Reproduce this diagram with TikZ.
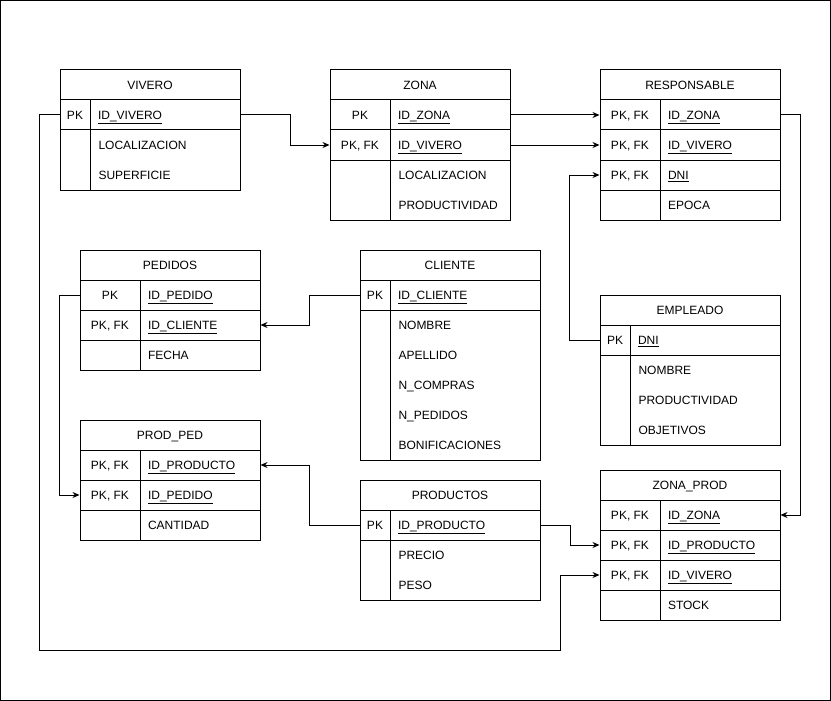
\documentclass[tikz,border=0pt]{standalone}
\usepackage{fontspec}
\setmainfont{Liberation Sans}
\usetikzlibrary{arrows.meta}
\begin{document}
\begin{tikzpicture}[x=1pt,y=-1pt,line width=1pt,
  font=\fontsize{12pt}{14pt}\selectfont,
  every node/.append style={text height=8.6pt,text depth=0pt},
  kopf/.style={draw,minimum width=180pt,minimum height=30pt,inner sep=0pt},
  schluessel/.style={draw,minimum width=#1,minimum height=30pt,inner sep=0pt},
  feld/.style={draw,text width=#1,minimum height=30pt,inner xsep=8pt,inner ysep=0pt,align=left},
  block/.style={draw,minimum width=#1,inner sep=0pt},
  eintrag/.style={anchor=west,inner sep=0pt},
  pfeil/.style={-{Stealth[length=7pt,width=6pt]}}]
\useasboundingbox (0,0) rectangle (831,701);
\draw (0.5,0.5) rectangle (830.5,700.5);

% VIVERO
\node[kopf] (viverotitel) at (150,85) {VIVERO};
\node[schluessel=30pt] (viveropk) at (75,115) {PK};
\node[feld=134pt] (viveroid) at (165,115) {\underline{ID\_VIVERO}};
\node[block=30pt,minimum height=60pt] (viverokeyrest) at (75,160) {};
\node[block=150pt,minimum height=60pt] (viverorest) at (165,160) {};
\node[eintrag] (viveroloc) at (98,145) {LOCALIZACION};
\node[eintrag] (viverosup) at (98,175) {SUPERFICIE};

% ZONA
\node[kopf] (zonatitel) at (420,85) {ZONA};
\node[schluessel=60pt] (zonapk) at (360,115) {PK};
\node[feld=104pt] (zonaid) at (450,115) {\underline{ID\_ZONA}};
\node[schluessel=60pt] (zonafk) at (360,145) {PK, FK};
\node[feld=104pt] (zonavivero) at (450,145) {\underline{ID\_VIVERO}};
\node[block=60pt,minimum height=60pt] (zonakeyrest) at (360,190) {};
\node[block=120pt,minimum height=60pt] (zonarest) at (450,190) {};
\node[eintrag] (zonaloc) at (398,175) {LOCALIZACION};
\node[eintrag] (zonaprod) at (398,205) {PRODUCTIVIDAD};

% RESPONSABLE
\node[kopf] (resptitel) at (690,85) {RESPONSABLE};
\node[schluessel=60pt] (respfkone) at (630,115) {PK, FK};
\node[feld=104pt] (respzona) at (720,115) {\underline{ID\_ZONA}};
\node[schluessel=60pt] (respfktwo) at (630,145) {PK, FK};
\node[feld=104pt] (respvivero) at (720,145) {\underline{ID\_VIVERO}};
\node[schluessel=60pt] (respfkthree) at (630,175) {PK, FK};
\node[feld=104pt] (respdni) at (720,175) {\underline{DNI}};
\node[schluessel=60pt] (respleer) at (630,205) {};
\node[feld=104pt] (respepoca) at (720,205) {EPOCA};

% PEDIDOS
\node[kopf] (pedidostitel) at (170,265) {PEDIDOS};
\node[schluessel=60pt] (pedidospk) at (110,295) {PK};
\node[feld=104pt] (pedidosid) at (200,295) {\underline{ID\_PEDIDO}};
\node[schluessel=60pt] (pedidosfk) at (110,325) {PK, FK};
\node[feld=104pt] (pedidoscliente) at (200,325) {\underline{ID\_CLIENTE}};
\node[schluessel=60pt] (pedidosleer) at (110,355) {};
\node[feld=104pt] (pedidosfecha) at (200,355) {FECHA};

% CLIENTE
\node[kopf] (clientetitel) at (450,265) {CLIENTE};
\node[schluessel=30pt] (clientepk) at (375,295) {PK};
\node[feld=134pt] (clienteid) at (465,295) {\underline{ID\_CLIENTE}};
\node[block=30pt,minimum height=150pt] (clientekeyrest) at (375,385) {};
\node[block=150pt,minimum height=150pt] (clienterest) at (465,385) {};
\node[eintrag] (clientenombre) at (398,325) {NOMBRE};
\node[eintrag] (clienteapellido) at (398,355) {APELLIDO};
\node[eintrag] (clientecompras) at (398,385) {N\_COMPRAS};
\node[eintrag] (clientepedidos) at (398,415) {N\_PEDIDOS};
\node[eintrag] (clientebonif) at (398,445) {BONIFICACIONES};

% EMPLEADO
\node[kopf] (empleadotitel) at (690,310) {EMPLEADO};
\node[schluessel=30pt] (empleadopk) at (615,340) {PK};
\node[feld=134pt] (empleadodni) at (705,340) {\underline{DNI}};
\node[block=30pt,minimum height=90pt] (empleadokeyrest) at (615,400) {};
\node[block=150pt,minimum height=90pt] (empleadorest) at (705,400) {};
\node[eintrag] (empleadonombre) at (638,370) {NOMBRE};
\node[eintrag] (empleadoprod) at (638,400) {PRODUCTIVIDAD};
\node[eintrag] (empleadoobj) at (638,430) {OBJETIVOS};

% PROD_PED
\node[kopf] (prodpedtitel) at (170,435) {PROD\_PED};
\node[schluessel=60pt] (prodpedfkone) at (110,465) {PK, FK};
\node[feld=104pt] (prodpedproducto) at (200,465) {\underline{ID\_PRODUCTO}};
\node[schluessel=60pt] (prodpedfktwo) at (110,495) {PK, FK};
\node[feld=104pt] (prodpedpedido) at (200,495) {\underline{ID\_PEDIDO}};
\node[schluessel=60pt] (prodpedleer) at (110,525) {};
\node[feld=104pt] (prodpedcantidad) at (200,525) {CANTIDAD};

% PRODUCTOS
\node[kopf] (productostitel) at (450,495) {PRODUCTOS};
\node[schluessel=30pt] (productospk) at (375,525) {PK};
\node[feld=134pt] (productosid) at (465,525) {\underline{ID\_PRODUCTO}};
\node[block=30pt,minimum height=60pt] (productoskeyrest) at (375,570) {};
\node[block=150pt,minimum height=60pt] (productosrest) at (465,570) {};
\node[eintrag] (productosprecio) at (398,555) {PRECIO};
\node[eintrag] (productospeso) at (398,585) {PESO};

% ZONA_PROD
\node[kopf] (zonaprodtitel) at (690,485) {ZONA\_PROD};
\node[schluessel=60pt] (zonaprodfkone) at (630,515) {PK, FK};
\node[feld=104pt] (zonaprodzona) at (720,515) {\underline{ID\_ZONA}};
\node[schluessel=60pt] (zonaprodfktwo) at (630,545) {PK, FK};
\node[feld=104pt] (zonaprodproducto) at (720,545) {\underline{ID\_PRODUCTO}};
\node[schluessel=60pt] (zonaprodfkthree) at (630,575) {PK, FK};
\node[feld=104pt] (zonaprodvivero) at (720,575) {\underline{ID\_VIVERO}};
\node[schluessel=60pt] (zonaprodleer) at (630,605) {};
\node[feld=104pt] (zonaprodstock) at (720,605) {STOCK};

% Verbindungen
\coordinate (untenknick) at (560,650);
\draw[pfeil] (viveroid.east) -- ++(50,0) |- (zonafk.west);
\draw[pfeil] (zonaid.east) -- (respfkone.west);
\draw[pfeil] (zonavivero.east) -- (respfktwo.west);
\draw[pfeil] (empleadopk.west) -- ++(-30,0) |- (respfkthree.west);
\draw[pfeil] (respzona.east) -- ++(20,0) |- (zonaprodzona.east);
\draw[pfeil] (clientepk.west) -- ++(-50,0) |- (pedidoscliente.east);
\draw[pfeil] (pedidospk.west) -- ++(-20,0) |- (prodpedfktwo.west);
\draw[pfeil] (productospk.west) -- ++(-50,0) |- (prodpedproducto.east);
\draw[pfeil] (productosid.east) -- ++(30,0) |- (zonaprodfktwo.west);
\draw[pfeil] (viveropk.west) -- ++(-20,0) |- (untenknick) |- (zonaprodfkthree.west);
\end{tikzpicture}
\end{document}
